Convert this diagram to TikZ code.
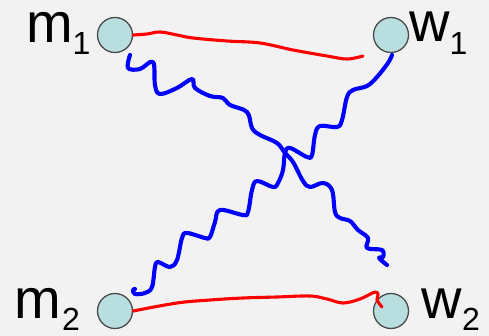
\documentclass[tikz,border=0pt]{standalone}
\usepackage{fontspec}
\setmainfont{Liberation Sans}
\definecolor{bg}{HTML}{F2F2F2}
\definecolor{nodefill}{HTML}{B9DEE0}
\definecolor{nodeline}{HTML}{4A4A4A}
\begin{document}
\begin{tikzpicture}[x=1pt,y=-1pt,
  person/.style={circle,draw=nodeline,fill=nodefill,line width=1.3pt,minimum size=35pt,inner sep=0pt},
  bigl/.style={anchor=base west,inner sep=0pt,text height=30pt,text depth=0pt,font=\fontsize{56}{60}\selectfont},
  subl/.style={anchor=base west,inner sep=0pt,text height=23pt,text depth=0pt,font=\fontsize{32}{36}\selectfont},
  redline/.style={red,line width=3.1pt,line cap=round,line join=round},
  blueline/.style={blue,line width=4.1pt,line cap=round,line join=round}]
\fill[bg] (0,0) rectangle (489,336);
\useasboundingbox (0,0) rectangle (489,336);
\node[person] (m1) at (115,35) {};
\node[person] (w1) at (391,35) {};
\node[person] (m2) at (115,311) {};
\node[person] (w2) at (391,311) {};
\node[bigl] (m1l) at (26,43) {m};
\node[subl] (m1s) at (72.5,55) {1};
\node[bigl] (m2l) at (14,318) {m};
\node[subl] (m2s) at (62,330) {2};
\node[bigl] (w1l) at (409.5,42) {w};
\node[subl] (w1s) at (449.5,55) {1};
\node[bigl] (w2l) at (421.5,318) {w};
\node[subl] (w2s) at (462,330) {2};
\coordinate (r1end) at (363,56);
\coordinate (b1end) at (387,265);
\coordinate (b2end) at (135,289);
% red lines
\draw[redline] plot[smooth,tension=0.6] coordinates {(m1.east) (147,34) (160,32) (177,35) (193,38) (227,41) (260,43) (293,50) (327,56) (347,59) (r1end)};
\draw[redline] plot[smooth,tension=0.6] coordinates {(m2.east) (177,303) (210,300) (243,298) (277,297) (310,296) (327,299) (343,303) (360,299) (375,292) (378,295) (377,300) (382,307)};
% blue from m1
\draw[blueline] plot[smooth,tension=0.6] coordinates {(130,55) (128,68) (140,69) (153,62) (155,85) (160,94) (177,88) (192,79) (195,88) (210,96) (223,98) (230,105) (247,112) (252,128) (260,135) (277,143) (285,153) (293,162) (303,181) (310,187) (323,183) (332,190) (335,212) (340,218) (350,221) (358,230) (368,238) (367,248) (382,250) (383,257) (379,258) (b1end)};
% blue from w1
\draw[blueline] plot[smooth,tension=0.6] coordinates {(392,55) (388,63) (377,77) (367,86) (353,90) (347,97) (342,120) (337,127) (320,126) (315,135) (312,155) (307,157) (290,148) (285,153) (283,170) (278,183) (273,187) (257,181) (252,190) (248,212) (243,215) (220,210) (215,222) (210,237) (205,238) (187,233) (182,238) (177,260) (170,267) (158,262) (155,267) (152,287) (145,293) (135,294) (133,290) (b2end)};
\end{tikzpicture}
\end{document}
